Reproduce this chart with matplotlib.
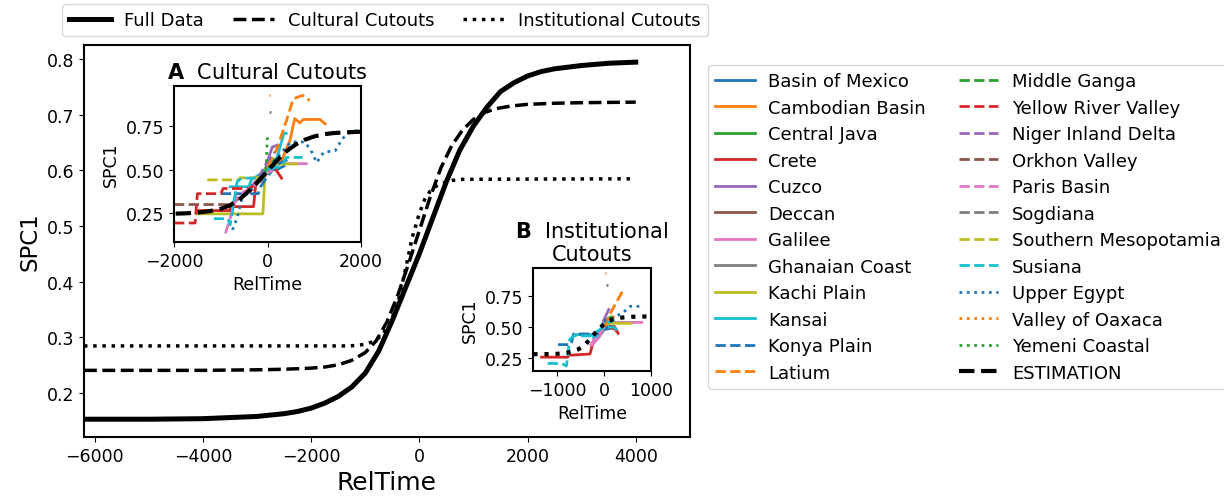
import matplotlib
matplotlib.use("Agg")
import matplotlib.pyplot as plt
from matplotlib.lines import Line2D

# main curves
full_x = [-6200, -5000, -4000, -3500, -3000, -2500, -2250, -2000, -1750, -1500, -1250, -1000,
          -750, -500, -250, 0, 250, 500, 750, 1000, 1250, 1500, 1750, 2000, 2250, 2500,
          3000, 3500, 4000]
full_y = [0.152, 0.152, 0.153, 0.155, 0.157, 0.162, 0.166, 0.172, 0.181, 0.193, 0.210, 0.235,
          0.275, 0.330, 0.390, 0.450, 0.515, 0.580, 0.637, 0.680, 0.714, 0.742, 0.758, 0.770,
          0.778, 0.783, 0.789, 0.793, 0.795]

cult_x = [-6200, -4000, -3000, -2500, -2000, -1750, -1500, -1250, -1000, -800, -600, -400, -200,
          0, 200, 400, 600, 800, 1000, 1200, 1400, 1700, 2000, 2500, 3000, 4000]
cult_y = [0.240, 0.240, 0.241, 0.242, 0.244, 0.246, 0.250, 0.258, 0.272, 0.293, 0.327, 0.375,
          0.432, 0.492, 0.552, 0.605, 0.645, 0.673, 0.692, 0.704, 0.711, 0.716, 0.719, 0.721,
          0.722, 0.723]

inst_x = [-6200, -2000, -1300, -1150, -1000, -850, -700, -550, -400, -250, -130,
          0, 100, 200, 300, 400, 600, 800, 4000]
inst_y = [0.284, 0.284, 0.284, 0.285, 0.287, 0.292, 0.302, 0.322, 0.360, 0.425, 0.480,
          0.523, 0.548, 0.563, 0.571, 0.576, 0.582, 0.584, 0.585]

regions = ["Basin of Mexico", "Cambodian Basin", "Central Java", "Crete", "Cuzco", "Deccan",
           "Galilee", "Ghanaian Coast", "Kachi Plain", "Kansai", "Konya Plain", "Latium",
           "Middle Ganga", "Yellow River Valley", "Niger Inland Delta", "Orkhon Valley",
           "Paris Basin", "Sogdiana", "Southern Mesopotamia", "Susiana", "Upper Egypt",
           "Valley of Oaxaca", "Yemeni Coastal"]

# regional series in the "Cultural Cutouts" inset
cultural = {
    "Basin of Mexico": ([-400, -100, 0, 200, 350], [0.40, 0.44, 0.50, 0.50, 0.52]),
    "Cambodian Basin": ([0, 300, 480, 580, 690, 760, 1120, 1230],
                        [0.50, 0.55, 0.67, 0.795, 0.77, 0.79, 0.79, 0.765]),
    "Central Java": ([-150, 0, 150], [0.47, 0.52, 0.56]),
    "Crete": ([-1500, -800, -800, -300, -250, 0, 150, 300],
              [0.262, 0.262, 0.285, 0.285, 0.42, 0.50, 0.51, 0.45]),
    "Cuzco": ([-100, 0, 100, 200], [0.45, 0.55, 0.63, 0.64]),
    "Deccan": ([-300, 0, 100], [0.42, 0.48, 0.50]),
    "Galilee": ([-300, -100, 50, 830], [0.42, 0.46, 0.534, 0.534]),
    "Ghanaian Coast": ([-100, 0, 100], [0.47, 0.50, 0.52]),
    "Kachi Plain": ([-1500, -100, -50, 100, 620], [0.243, 0.243, 0.50, 0.532, 0.532]),
    "Kansai": ([-800, -400, -350, 0, 150, 350, 400], [0.40, 0.40, 0.44, 0.50, 0.52, 0.71, 0.71]),
    "Konya Plain": ([-1000, -200, -150, 0, 200, 450], [0.36, 0.36, 0.40, 0.46, 0.53, 0.56]),
    "Latium": ([0, 200, 400, 550, 750, 900], [0.52, 0.62, 0.78, 0.91, 0.93, 0.90]),
    "Middle Ganga": ([-200, 0, 100], [0.46, 0.50, 0.53]),
    "Yellow River Valley": ([-2000, -1550, -1500, -1000, -950, -400, -200, 0],
                            [0.19, 0.19, 0.36, 0.36, 0.39, 0.39, 0.42, 0.48]),
    "Niger Inland Delta": ([-200, 0, 150], [0.45, 0.55, 0.60]),
    "Orkhon Valley": ([-2000, -800, -300, 0], [0.297, 0.297, 0.39, 0.49]),
    "Paris Basin": ([-900, -650, -300, 0, 200], [0.13, 0.35, 0.40, 0.48, 0.51]),
    "Sogdiana": ([20, 80], [0.833, 0.833]),
    "Southern Mesopotamia": ([-1290, -600, -590, -100, 0], [0.44, 0.44, 0.452, 0.452, 0.49]),
    "Susiana": ([-1150, -850, -800, -650, -550, -100, 0, 300, 400, 750],
                [0.215, 0.215, 0.18, 0.43, 0.45, 0.45, 0.50, 0.52, 0.57, 0.57]),
    "Upper Egypt": ([-750, -650, -550, -300, 0, 300, 500, 800, 950, 1050, 1200, 1450, 1600, 1800, 2000],
                    [0.15, 0.22, 0.33, 0.40, 0.50, 0.60, 0.66, 0.66, 0.60, 0.54, 0.60, 0.61, 0.68, 0.72, 0.73]),
    "Valley of Oaxaca": ([25, 45], [0.93, 0.93]),
    "Yemeni Coastal": ([-30, -20, -10, 0], [0.50, 0.58, 0.65, 0.70]),
}

# regional series in the "Institutional Cutouts" inset
institutional = {
    "Basin of Mexico": ([-200, -50, 0, 150], [0.43, 0.45, 0.48, 0.49]),
    "Cambodian Basin": ([0, 100, 200], [0.52, 0.57, 0.58]),
    "Central Java": ([0, 150], [0.55, 0.58]),
    "Crete": ([-1330, -770, -760, -300, -200, 0, 220, 300],
              [0.26, 0.26, 0.275, 0.285, 0.42, 0.505, 0.505, 0.45]),
    "Cuzco": ([-50, 0, 100], [0.48, 0.56, 0.64]),
    "Galilee": ([-250, -100, 0, 150, 800], [0.36, 0.42, 0.50, 0.537, 0.537]),
    "Kachi Plain": ([-100, 0, 100, 580], [0.45, 0.50, 0.53, 0.53]),
    "Kansai": ([-600, -250, -200, 0, 200], [0.44, 0.44, 0.40, 0.53, 0.55]),
    "Konya Plain": ([-980, -700, -650, -300, -100, 0, 150], [0.36, 0.36, 0.445, 0.445, 0.45, 0.50, 0.50]),
    "Latium": ([0, 150, 400], [0.50, 0.62, 0.79]),
    "Yellow River Valley": ([100, 250, 300], [0.50, 0.48, 0.44]),
    "Paris Basin": ([-300, -200, -50, 0], [0.35, 0.40, 0.47, 0.50]),
    "Sogdiana": ([40, 80], [0.837, 0.837]),
    "Susiana": ([-1200, -900, -800, -730, -650, -300, 0, 200, 300],
                [0.21, 0.21, 0.19, 0.40, 0.43, 0.43, 0.50, 0.50, 0.47]),
    "Upper Egypt": ([0, 200, 450, 550, 850], [0.55, 0.57, 0.63, 0.665, 0.665]),
    "Valley of Oaxaca": ([20, 40], [0.93, 0.93]),
}

styles = ["-", "--", ":"]


def region_style(name):
    i = regions.index(name)
    return dict(color=f"C{i % 10}", linestyle=styles[i // 10])


def style_inset(a, title, xticks):
    a.set_xticks(xticks)
    a.set_yticks([0.25, 0.50, 0.75])
    a.set_title(title, fontsize=15)
    a.set_xlabel("RelTime", fontsize=12.5)
    a.set_ylabel("SPC1", fontsize=12.5)
    a.tick_params(labelsize=12.5)
    for s in a.spines.values():
        s.set_linewidth(1.5)


fig = plt.figure(figsize=(12.24, 5.02), dpi=100)
ax = fig.add_axes([0.0686, 0.1275, 0.495, 0.781])

l1, = ax.plot(full_x, full_y, color="black", lw=3.6, label="Full Data")
l2, = ax.plot(cult_x, cult_y, color="black", lw=2.5, ls="--", label="Cultural Cutouts")
l3, = ax.plot(inst_x, inst_y, color="black", lw=2.5, ls=":", label="Institutional Cutouts")
ax.set_xlim(-6200, 5000)
ax.set_ylim(0.12, 0.826)
ax.set_xlabel("RelTime", fontsize=18)
ax.set_ylabel("SPC1", fontsize=16.5)
ax.tick_params(labelsize=12.5)
for s in ax.spines.values():
    s.set_linewidth(1.5)

# inset A
axA = fig.add_axes([0.1422, 0.516, 0.1528, 0.311])
for name, (xs, ys) in cultural.items():
    axA.plot(xs, ys, lw=2, **region_style(name))
axA.plot(cult_x, cult_y, color="black", lw=3, ls="--")
axA.set_xlim(-2000, 2000)
axA.set_ylim(0.08, 0.985)
style_inset(axA, r"$\bf{A}$  Cultural Cutouts", [-2000, 0, 2000])

# inset B
axB = fig.add_axes([0.4355, 0.259, 0.0964, 0.205])
for name, (xs, ys) in institutional.items():
    axB.plot(xs, ys, lw=2, **region_style(name))
axB.plot(inst_x, inst_y, color="black", lw=3, ls=":")
axB.set_xlim(-1510, 1000)
axB.set_ylim(0.15, 0.97)
style_inset(axB, r"$\bf{B}$  Institutional" + "\nCutouts", [-1000, 0, 1000])

# legends
fig.legend(handles=[l1, l2, l3], loc="upper left", bbox_to_anchor=(62 / 1224, 1 - 5 / 502),
           ncol=3, fontsize=13, handlelength=2.3, handletextpad=0.75, columnspacing=1.6,
           borderaxespad=0)

handles = [Line2D([], [], lw=2, **region_style(n)) for n in regions]
handles.append(Line2D([], [], color="black", lw=3, ls="--"))
labels = regions + ["ESTIMATION"]
fig.legend(handles, labels, loc="upper left", bbox_to_anchor=(708 / 1224, 1 - 66 / 502),
           ncol=2, fontsize=13, handlelength=2.2, handletextpad=0.75, labelspacing=0.47,
           columnspacing=1.8, borderaxespad=0)

fig.savefig("out.png", dpi=100)
